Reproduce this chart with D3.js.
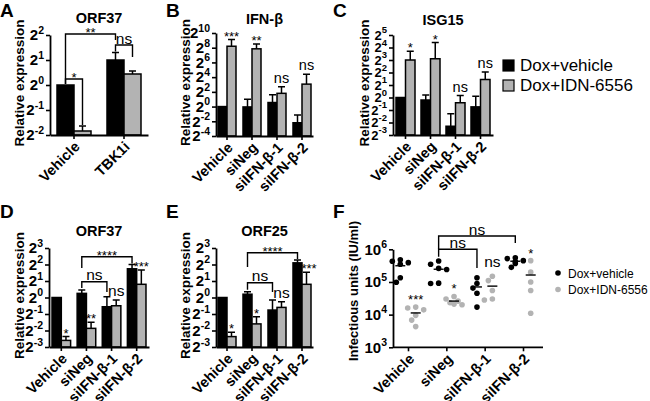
<!DOCTYPE html>
<html><head><meta charset="utf-8">
<script src="https://cdn.jsdelivr.net/npm/d3@7"></script>
<style>
html,body{margin:0;padding:0;background:#fff;}
svg{display:block;}
</style></head>
<body>
<svg id="chart" width="650" height="401"></svg>
<script>
// ---------- DATA ----------
const seriesNames = ["Dox+vehicle", "Dox+IDN-6556"];
const catsA = ["Vehicle", "TBK1i"];
const catsSi = ["Vehicle", "siNeg", "siIFN-β-1", "siIFN-β-2"];

// log2 relative expression values (exponents)
const ticksA = [-2, -1, 0, 1, 2];
const aBlack = [0, 1.0];
const aBlackErr = [0, 0.3];
const aGrey = [-1.84, 0.44];
const aGreyErr = [0.2, 0.12];

const ticksB = [-4, -2, 0, 2, 4, 6, 8, 10];
const bBlack = [0, -0.05, 0.55, -2.2];
const bBlackErr = [0, 1.05, 1.05, 1.05];
const bGrey = [8.2, 7.85, 1.8, 3.05];
const bGreyErr = [0.9, 0.65, 0.9, 1.35];
const bLabels = ["***", "**", "ns", "ns"];

const ticksC = [-3, -2, -1, 0, 1, 2, 3, 4, 5];
const cBlack = [0, -0.2, -2.3, -0.75];
const cBlackErr = [0, 0.4, 1.0, 0.85];
const cGrey = [3.0, 3.1, -0.42, 1.44];
const cGreyErr = [0.7, 1.3, 0.58, 0.6];
const cLabels = ["*", "*", "ns", "ns"];

const ticksDE = [-3, -2, -1, 0, 1, 2, 3];
const dBlack = [0, 0.25, -0.56, 1.74];
const dBlackErr = [0, 0.2, 0.61, 0.26];
const dGrey = [-2.6, -1.87, -0.5, 0.8];
const dGreyErr = [0.23, 0.37, 0.35, 0.87];
const dLabels = ["*", "**", "ns", "***"];

const eBlack = [0, 0.2, -0.76, 2.1];
const eBlackErr = [0, 0.15, 0.61, 0.17];
const eGrey = [-2.37, -1.6, -0.6, 0.8];
const eGreyErr = [0.27, 0.44, 0.35, 0.73];
const eLabels = ["*", "*", "ns", "****"];

// infectious units (IU/ml)
const ticksF = [1e3, 1e4, 1e5, 1e6];
const fBlack = [
  [4.8e5, 4.3e5, 3.9e5, 3.5e5, 1.35e5, 0.98e5],
  [4.4e5, 3.5e5, 2.6e5, 2.4e5, 9.2e4, 9.0e4],
  [1.35e5, 9.0e4, 6.5e4, 4.5e4, 1.7e4],
  [5.5e5, 5.2e5, 4.5e5, 4.2e5, 3.7e5, 2.8e5]
];
const fGrey = [
  [1.7e4, 1.6e4, 1.4e4, 9.5e3, 6.8e3, 4.3e3],
  [3.6e4, 3.0e4, 2.6e4, 2.3e4, 2.1e4, 2.0e4],
  [1.5e5, 1.1e5, 5.5e4, 3.0e4, 2.8e4],
  [4.5e5, 2.0e5, 1.0e5, 5.5e4, 1.1e4]
];
const fLabels = ["***", "*", "ns", "*"];

// ---------- DRAWING ----------
const FONT = "Liberation Sans, Arial, Helvetica, sans-serif";
const GREY = "#b3b3b3";
const svg = d3.select("#chart").attr("font-family", FONT);

function supLabels(sel, base, expFn, baseSize, supSize) {
  sel.selectAll(".tick text").each(function(d) {
    const t = d3.select(this);
    t.text(null).attr("font-size", baseSize).attr("font-weight", "bold").attr("fill", "#000");
    t.append("tspan").text(base);
    t.append("tspan").attr("dy", -6.5).attr("font-size", supSize).text(expFn(d));
  });
}

function styleAxis(g) {
  g.select(".domain").attr("stroke", "#000").attr("stroke-width", 1.8);
  g.selectAll(".tick line").attr("stroke", "#000").attr("stroke-width", 1.6);
}

function xLabels(g) {
  g.selectAll(".tick text")
    .attr("font-size", 14.5).attr("font-weight", "bold").attr("fill", "#000")
    .attr("text-anchor", "end")
    .attr("x", 0).attr("y", 0).attr("dy", "0.35em")
    .attr("transform", "translate(3,9) rotate(-45)");
}

function barPanel(cfg) {
  const x = d3.scaleBand().domain(cfg.cats).range([cfg.x0, cfg.x1])
    .paddingInner(cfg.pi).paddingOuter(cfg.po);
  const y = d3.scaleLinear().domain(cfg.domain).range([cfg.y0, cfg.y1]);
  const bw = x.bandwidth() / 2;
  const g = svg.append("g");
  const sets = [
    {vals: cfg.black, errs: cfg.blackErr, off: 0, fill: "#000"},
    {vals: cfg.grey, errs: cfg.greyErr, off: bw, fill: GREY}
  ];
  sets.forEach(s => {
    g.selectAll(null).data(cfg.cats).enter().filter((c, i) => s.errs[i] > 0)
      .append("path")
      .attr("d", (c) => {
        const i = cfg.cats.indexOf(c);
        const cx = x(c) + s.off + bw / 2;
        const yt = y(s.vals[i] + s.errs[i]);
        return `M${cx},${y(s.vals[i])}V${yt}M${cx - 3.5},${yt}H${cx + 3.5}`;
      })
      .attr("stroke", "#000").attr("stroke-width", 1.5).attr("fill", "none");
    g.selectAll(null).data(cfg.cats).enter().append("rect")
      .attr("x", c => x(c) + s.off)
      .attr("width", bw)
      .attr("y", (c, i) => y(s.vals[i]))
      .attr("height", (c, i) => y(cfg.domain[0]) - y(s.vals[i]))
      .attr("fill", s.fill).attr("stroke", "#000").attr("stroke-width", 1.5);
  });
  const ya = g.append("g").attr("transform", `translate(${cfg.x0},0)`)
    .call(d3.axisLeft(y).tickValues(cfg.ticks).tickSize(4).tickSizeOuter(0).tickPadding(2));
  styleAxis(ya);
  supLabels(ya, "2", d => String(d), cfg.tickFont || 15, cfg.supFont || 10.5);
  const xa = g.append("g").attr("transform", `translate(0,${cfg.y0})`)
    .call(d3.axisBottom(x).tickSize(4).tickSizeOuter(0));
  styleAxis(xa);
  xLabels(xa);
  svg.append("text").attr("x", (cfg.x0 + cfg.x1) / 2).attr("y", cfg.titleY)
    .attr("text-anchor", "middle").attr("font-size", 14.5).attr("font-weight", "bold")
    .text(cfg.title);
  svg.append("text").attr("transform", `translate(${cfg.ylabX},${(cfg.y0 + cfg.y1) / 2 - 2}) rotate(-90)`)
    .attr("text-anchor", "middle").attr("font-size", 13.5).attr("font-weight", "bold")
    .text("Relative expression");
  svg.append("text").attr("x", cfg.letterX).attr("y", cfg.letterY)
    .attr("font-size", 19).attr("font-weight", "bold").text(cfg.letter);
  if (cfg.labels) {
    cfg.labels.forEach((lab, i) => {
      const c = cfg.cats[i];
      const cx = x(c) + bw * 1.5;
      const yt = y(cfg.grey[i] + cfg.greyErr[i]);
      annot(cx, yt, lab, cfg.bigNs);
    });
  }
  return {x, y, bw,
    cxBlack: c => x(c) + bw / 2,
    cxGrey: c => x(c) + bw * 1.5,
    topBlack: i => y(cfg.black[i] + cfg.blackErr[i]),
    topGrey: i => y(cfg.grey[i] + cfg.greyErr[i])};
}

function annot(cx, yt, lab, big) {
  if (lab === "ns") {
    svg.append("text").attr("x", cx).attr("y", yt - 4).attr("text-anchor", "middle")
      .attr("font-size", big ? 15.5 : 14.5).text(lab);
  } else {
    svg.append("text").attr("x", cx).attr("y", yt + 1).attr("text-anchor", "middle")
      .attr("font-size", 13).text(lab);
  }
}

function bracket(x1, x2, yl, y1e, y2e, lab) {
  svg.append("path").attr("d", `M${x1},${y1e}V${yl}H${x2}V${y2e}`)
    .attr("fill", "none").attr("stroke", "#000").attr("stroke-width", 1.4);
  const mx = (x1 + x2) / 2;
  if (lab === "ns") {
    svg.append("text").attr("x", mx).attr("y", yl - 1.5).attr("text-anchor", "middle")
      .attr("font-size", 15.5).text(lab);
  } else {
    svg.append("text").attr("x", mx).attr("y", yl + 3).attr("text-anchor", "middle")
      .attr("font-size", 13).text(lab);
  }
}

// Panel A
const pA = barPanel({x0: 50, x1: 148, y0: 135, y1: 35, domain: [-2, 2], ticks: ticksA,
  cats: catsA, black: aBlack, blackErr: aBlackErr, grey: aGrey, greyErr: aGreyErr,
  pi: 0.32, po: 0.14, title: "ORF37", titleY: 23, ylabX: 24, letter: "A", letterX: 0, letterY: 17});
bracket(pA.cxBlack("Vehicle"), pA.cxBlack("TBK1i"), 34, pA.topBlack(0) - 1, 40, "**");
bracket(pA.cxBlack("TBK1i"), pA.cxGrey("TBK1i"), 45, pA.topBlack(1) - 1, 57, "ns");
bracket(pA.cxBlack("Vehicle"), pA.cxGrey("Vehicle"), 79, pA.topBlack(0) - 1, pA.topGrey(0) - 1, "*");

// Panel B
barPanel({x0: 216, x1: 313, y0: 136, y1: 33, domain: [-4, 10], ticks: ticksB,
  cats: catsSi, black: bBlack, blackErr: bBlackErr, grey: bGrey, greyErr: bGreyErr, labels: bLabels,
  pi: 0.28, po: 0.08, title: "IFN-β", titleY: 24, ylabX: 190, letter: "B", letterX: 166, letterY: 17});

// Panel C
barPanel({x0: 393, x1: 493, y0: 135, y1: 35, domain: [-3, 5], ticks: ticksC,
  cats: catsSi, black: cBlack, blackErr: cBlackErr, grey: cGrey, greyErr: cGreyErr, labels: cLabels,
  tickFont: 13, supFont: 9.5,
  pi: 0.24, po: 0.12, title: "ISG15", titleY: 25, ylabX: 369, letter: "C", letterX: 333, letterY: 17});

// Panel D
const pD = barPanel({x0: 49, x1: 149, y0: 347, y1: 248, domain: [-3, 3], ticks: ticksDE,
  cats: catsSi, black: dBlack, blackErr: dBlackErr, grey: dGrey, greyErr: dGreyErr, labels: dLabels, bigNs: true,
  pi: 0.26, po: 0.12, title: "ORF37", titleY: 236, ylabX: 24, letter: "D", letterX: 0, letterY: 218});
bracket(pD.cxBlack("siNeg"), pD.cxBlack("siIFN-β-2"), 256.7, 268, pD.topBlack(3) - 1, "****");
bracket(pD.cxBlack("siNeg"), pD.cxBlack("siIFN-β-1"), 281.7, pD.topBlack(1) - 2, 292, "ns");

// Panel E
const pE = barPanel({x0: 216, x1: 313, y0: 347, y1: 248, domain: [-3, 3], ticks: ticksDE,
  cats: catsSi, black: eBlack, blackErr: eBlackErr, grey: eGrey, greyErr: eGreyErr, labels: eLabels, bigNs: true,
  pi: 0.28, po: 0.08, title: "ORF25", titleY: 236, ylabX: 190, letter: "E", letterX: 166, letterY: 218});
bracket(pE.cxBlack("siNeg"), pE.cxBlack("siIFN-β-2"), 252.7, 267, pE.topBlack(3) - 1, "****");
bracket(pE.cxBlack("siNeg"), pE.cxBlack("siIFN-β-1"), 282.7, pE.topBlack(1) - 2, 292, "ns");

// Top legend
[0, 1].forEach(i => {
  const yy = 60 + i * 20;
  svg.append("rect").attr("x", 503).attr("y", yy).attr("width", 11).attr("height", 11)
    .attr("fill", i === 0 ? "#000" : GREY).attr("stroke", "#000").attr("stroke-width", 1.2);
  svg.append("text").attr("x", 520).attr("y", yy + 11).attr("font-size", 17).text(seriesNames[i]);
});

// Panel F
(function() {
  const xF = d3.scalePoint().domain(catsSi).range([408, 523]);
  const yF = d3.scaleLog().domain([1e3, 1e6]).range([347.3, 249.3]);
  const off = 7.7;
  const g = svg.append("g");
  const groups = [
    {data: fBlack, dx: -off, fill: "#000"},
    {data: fGrey, dx: off, fill: GREY}
  ];
  groups.forEach(s => {
    s.data.forEach((vals, gi) => {
      const cx = xF(catsSi[gi]) + s.dx;
      const placed = [];
      const sorted = vals.slice().sort((a, b) => b - a);
      sorted.forEach(v => {
        const py = yF(v);
        const cands = [0, -4, 4, -8, 8];
        let px = cx;
        for (const c of cands) {
          if (placed.every(p => Math.hypot(p[0] - (cx + c), p[1] - py) >= 5.4)) { px = cx + c; break; }
        }
        placed.push([px, py]);
        g.append("circle").attr("cx", px).attr("cy", py).attr("r", 2.8).attr("fill", s.fill);
      });
      const mean = d3.mean(vals);
      g.append("line").attr("x1", cx - 5).attr("x2", cx + 5)
        .attr("y1", yF(mean)).attr("y2", yF(mean)).attr("stroke", "#000").attr("stroke-width", 1.4);
    });
  });
  fLabels.forEach((lab, i) => {
    const cx = xF(catsSi[i]) + off;
    const yt = yF(d3.max(fGrey[i]));
    if (lab === "ns") {
      svg.append("text").attr("x", cx).attr("y", yt - 9).attr("text-anchor", "middle").attr("font-size", 15.5).text(lab);
    } else {
      svg.append("text").attr("x", cx).attr("y", yt - 3).attr("text-anchor", "middle").attr("font-size", 13).text(lab);
    }
  });
  const bx = c => xF(c) - off;
  bracket(bx("siNeg"), bx("siIFN-β-2"), 236, 249.3, 243, "ns");
  bracket(bx("siNeg"), bx("siIFN-β-1"), 249.3, 256.7, 268, "ns");

  const ya = svg.append("g").attr("transform", "translate(393,0)")
    .call(d3.axisLeft(yF).tickValues(ticksF).tickSize(4).tickSizeOuter(0).tickPadding(2));
  styleAxis(ya);
  supLabels(ya, "10", d => String(Math.round(Math.log10(d))), 15, 10.5);
  const xa = svg.append("g").attr("transform", "translate(0,347.3)")
    .call(d3.axisBottom(xF).tickSize(4).tickSizeOuter(0));
  xa.select(".domain").attr("d", "M393,0H543");
  styleAxis(xa);
  xLabels(xa);
  svg.append("text").attr("transform", "translate(358,291) rotate(-90)")
    .attr("text-anchor", "middle").attr("font-size", 13).attr("font-weight", "bold")
    .text("Infectious units (IU/ml)");
  svg.append("text").attr("x", 333).attr("y", 218).attr("font-size", 19).attr("font-weight", "bold").text("F");
  [0, 1].forEach(i => {
    const yy = 273 + i * 16.5;
    svg.append("circle").attr("cx", 558).attr("cy", yy).attr("r", 2.8).attr("fill", i === 0 ? "#000" : GREY);
    svg.append("text").attr("x", 568).attr("y", yy + 4.5).attr("font-size", 12).text(seriesNames[i]);
  });
})();
</script>
</body></html>
